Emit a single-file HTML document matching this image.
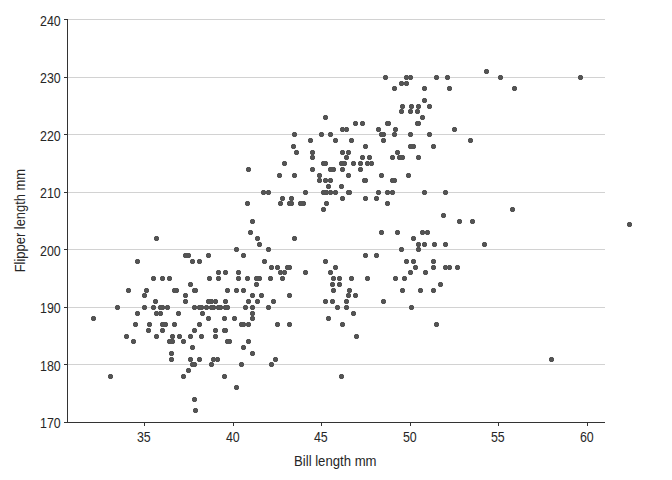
<!DOCTYPE html><html><head><meta charset="utf-8"><title>Scatter</title><style>html,body{margin:0;padding:0;background:#fff}svg{display:block}text{font-family:"Liberation Sans",sans-serif;fill:#262626}</style></head><body>
<svg width="672" height="480" viewBox="0 0 672 480">
<rect width="672" height="480" fill="#fff"/>
<g fill="#d2d2d2" shape-rendering="crispEdges">
<rect x="68" y="364" width="537" height="1"/>
<rect x="68" y="307" width="537" height="1"/>
<rect x="68" y="249" width="537" height="1"/>
<rect x="68" y="192" width="537" height="1"/>
<rect x="68" y="134" width="537" height="1"/>
<rect x="68" y="77" width="537" height="1"/>
<rect x="68" y="19" width="537" height="1"/>
</g>
<g fill="#333" shape-rendering="crispEdges">
<rect x="67" y="19" width="1" height="404"/>
<rect x="67" y="422" width="538" height="1"/>
<rect x="64" y="422" width="3" height="1"/>
<rect x="64" y="364" width="3" height="1"/>
<rect x="64" y="307" width="3" height="1"/>
<rect x="64" y="249" width="3" height="1"/>
<rect x="64" y="192" width="3" height="1"/>
<rect x="64" y="134" width="3" height="1"/>
<rect x="64" y="77" width="3" height="1"/>
<rect x="64" y="19" width="3" height="1"/>
<rect x="144" y="423" width="1" height="3"/>
<rect x="233" y="423" width="1" height="3"/>
<rect x="321" y="423" width="1" height="3"/>
<rect x="410" y="423" width="1" height="3"/>
<rect x="498" y="423" width="1" height="3"/>
<rect x="587" y="423" width="1" height="3"/>
</g>
<g font-size="13">
<text transform="translate(60.7,427.70) scale(0.955,1.08)" text-anchor="end">170</text>
<text transform="translate(60.7,370.70) scale(0.955,1.08)" text-anchor="end">180</text>
<text transform="translate(60.7,312.70) scale(0.955,1.08)" text-anchor="end">190</text>
<text transform="translate(60.7,255.70) scale(0.955,1.08)" text-anchor="end">200</text>
<text transform="translate(60.7,197.70) scale(0.955,1.08)" text-anchor="end">210</text>
<text transform="translate(60.7,140.70) scale(0.955,1.08)" text-anchor="end">220</text>
<text transform="translate(60.7,82.70) scale(0.955,1.08)" text-anchor="end">230</text>
<text transform="translate(60.7,25.70) scale(0.955,1.08)" text-anchor="end">240</text>
<text transform="translate(143.8,441.7) scale(0.955,1.08)" text-anchor="middle">35</text>
<text transform="translate(232.8,441.7) scale(0.955,1.08)" text-anchor="middle">40</text>
<text transform="translate(320.8,441.7) scale(0.955,1.08)" text-anchor="middle">45</text>
<text transform="translate(409.8,441.7) scale(0.955,1.08)" text-anchor="middle">50</text>
<text transform="translate(497.8,441.7) scale(0.955,1.08)" text-anchor="middle">55</text>
<text transform="translate(586.8,441.7) scale(0.955,1.08)" text-anchor="middle">60</text>
<text transform="translate(335.3,465.8) scale(1.012,1.08)" text-anchor="middle">Bill length mm</text>
<text transform="translate(25.4,220.6) rotate(-90) scale(0.995,1.08)" text-anchor="middle">Flipper length mm</text>
</g>
<g shape-rendering="crispEdges">
<path fill="#000" fill-opacity="0.12" d="M215 357h1v1h-1zm4 0h1v1h-1zm0 4h1v1h-1zm-4 0h1v1h-1zM222 328h1v1h-1zm4 0h1v1h-1zm0 4h1v1h-1zm-4 0h1v1h-1zM236 276h1v1h-1zm4 0h1v1h-1zm0 4h1v1h-1zm-4 0h1v1h-1zM172 288h1v1h-1zm4 0h1v1h-1zm0 4h1v1h-1zm-4 0h1v1h-1zM218 305h1v1h-1zm4 0h1v1h-1zm0 4h1v1h-1zm-4 0h1v1h-1zM211 357h1v1h-1zm4 0h1v1h-1zm0 4h1v1h-1zm-4 0h1v1h-1zM216 276h1v1h-1zm4 0h1v1h-1zm0 4h1v1h-1zm-4 0h1v1h-1zM126 288h1v1h-1zm4 0h1v1h-1zm0 4h1v1h-1zm-4 0h1v1h-1zM266 305h1v1h-1zm4 0h1v1h-1zm0 4h1v1h-1zm-4 0h1v1h-1zM192 328h1v1h-1zm4 0h1v1h-1zm0 4h1v1h-1zm-4 0h1v1h-1zM192 362h1v1h-1zm4 0h1v1h-1zm0 4h1v1h-1zm-4 0h1v1h-1zM250 351h1v1h-1zm4 0h1v1h-1zm0 4h1v1h-1zm-4 0h1v1h-1zM206 299h1v1h-1zm4 0h1v1h-1zm0 4h1v1h-1zm-4 0h1v1h-1zM135 259h1v1h-1zm4 0h1v1h-1zm0 4h1v1h-1zm-4 0h1v1h-1zM170 334h1v1h-1zm4 0h1v1h-1zm0 4h1v1h-1zm-4 0h1v1h-1zM207 276h1v1h-1zm4 0h1v1h-1zm0 4h1v1h-1zm-4 0h1v1h-1zM275 265h1v1h-1zm4 0h1v1h-1zm0 4h1v1h-1zm-4 0h1v1h-1zM131 339h1v1h-1zm4 0h1v1h-1zm0 4h1v1h-1zm-4 0h1v1h-1zM337 282h1v1h-1zm4 0h1v1h-1zm0 4h1v1h-1zm-4 0h1v1h-1zM192 397h1v1h-1zm4 0h1v1h-1zm0 4h1v1h-1zm-4 0h1v1h-1zM190 362h1v1h-1zm4 0h1v1h-1zm0 4h1v1h-1zm-4 0h1v1h-1zM158 311h1v1h-1zm4 0h1v1h-1zm0 4h1v1h-1zm-4 0h1v1h-1zM199 334h1v1h-1zm4 0h1v1h-1zm0 4h1v1h-1zm-4 0h1v1h-1zM209 362h1v1h-1zm4 0h1v1h-1zm0 4h1v1h-1zm-4 0h1v1h-1zM147 322h1v1h-1zm4 0h1v1h-1zm0 4h1v1h-1zm-4 0h1v1h-1zM241 345h1v1h-1zm4 0h1v1h-1zm0 4h1v1h-1zm-4 0h1v1h-1zM239 322h1v1h-1zm4 0h1v1h-1zm0 4h1v1h-1zm-4 0h1v1h-1zM193 408h1v1h-1zm4 0h1v1h-1zm0 4h1v1h-1zm-4 0h1v1h-1zM239 362h1v1h-1zm4 0h1v1h-1zm0 4h1v1h-1zm-4 0h1v1h-1zM222 374h1v1h-1zm4 0h1v1h-1zm0 4h1v1h-1zm-4 0h1v1h-1zM181 374h1v1h-1zm4 0h1v1h-1zm0 4h1v1h-1zm-4 0h1v1h-1zM222 316h1v1h-1zm4 0h1v1h-1zm0 4h1v1h-1zm-4 0h1v1h-1zM246 339h1v1h-1zm4 0h1v1h-1zm0 4h1v1h-1zm-4 0h1v1h-1zM167 276h1v1h-1zm4 0h1v1h-1zm0 4h1v1h-1zm-4 0h1v1h-1zM216 270h1v1h-1zm4 0h1v1h-1zm0 4h1v1h-1zm-4 0h1v1h-1zM209 305h1v1h-1zm4 0h1v1h-1zm0 4h1v1h-1zm-4 0h1v1h-1zM269 362h1v1h-1zm4 0h1v1h-1zm0 4h1v1h-1zm-4 0h1v1h-1zM188 357h1v1h-1zm4 0h1v1h-1zm0 4h1v1h-1zm-4 0h1v1h-1zM227 339h1v1h-1zm4 0h1v1h-1zm0 4h1v1h-1zm-4 0h1v1h-1zM169 351h1v1h-1zm4 0h1v1h-1zm0 4h1v1h-1zm-4 0h1v1h-1zM245 276h1v1h-1zm4 0h1v1h-1zm0 4h1v1h-1zm-4 0h1v1h-1zM160 328h1v1h-1zm4 0h1v1h-1zm0 4h1v1h-1zm-4 0h1v1h-1zM303 270h1v1h-1zm4 0h1v1h-1zm0 4h1v1h-1zm-4 0h1v1h-1zM177 334h1v1h-1zm4 0h1v1h-1zm0 4h1v1h-1zm-4 0h1v1h-1zM223 305h1v1h-1zm4 0h1v1h-1zm0 4h1v1h-1zm-4 0h1v1h-1zM186 368h1v1h-1zm4 0h1v1h-1zm0 4h1v1h-1zm-4 0h1v1h-1zM160 305h1v1h-1zm4 0h1v1h-1zm0 4h1v1h-1zm-4 0h1v1h-1zM271 299h1v1h-1zm4 0h1v1h-1zm0 4h1v1h-1zm-4 0h1v1h-1zM223 328h1v1h-1zm4 0h1v1h-1zm0 4h1v1h-1zm-4 0h1v1h-1zM232 316h1v1h-1zm4 0h1v1h-1zm0 4h1v1h-1zm-4 0h1v1h-1zM142 305h1v1h-1zm4 0h1v1h-1zm0 4h1v1h-1zm-4 0h1v1h-1zM266 247h1v1h-1zm4 0h1v1h-1zm0 4h1v1h-1zm-4 0h1v1h-1zM133 322h1v1h-1zm4 0h1v1h-1zm0 4h1v1h-1zm-4 0h1v1h-1zM255 299h1v1h-1zm4 0h1v1h-1zm0 4h1v1h-1zm-4 0h1v1h-1zM213 328h1v1h-1zm4 0h1v1h-1zm0 4h1v1h-1zm-4 0h1v1h-1zM241 288h1v1h-1zm4 0h1v1h-1zm0 4h1v1h-1zm-4 0h1v1h-1zM169 357h1v1h-1zm4 0h1v1h-1zm0 4h1v1h-1zm-4 0h1v1h-1zM188 282h1v1h-1zm4 0h1v1h-1zm0 4h1v1h-1zm-4 0h1v1h-1zM154 334h1v1h-1zm4 0h1v1h-1zm0 4h1v1h-1zm-4 0h1v1h-1zM254 276h1v1h-1zm4 0h1v1h-1zm0 4h1v1h-1zm-4 0h1v1h-1zM188 334h1v1h-1zm4 0h1v1h-1zm0 4h1v1h-1zm-4 0h1v1h-1zM250 293h1v1h-1zm4 0h1v1h-1zm0 4h1v1h-1zm-4 0h1v1h-1zM167 339h1v1h-1zm4 0h1v1h-1zm0 4h1v1h-1zm-4 0h1v1h-1zM259 293h1v1h-1zm4 0h1v1h-1zm0 4h1v1h-1zm-4 0h1v1h-1zM151 276h1v1h-1zm4 0h1v1h-1zm0 4h1v1h-1zm-4 0h1v1h-1zM250 316h1v1h-1zm4 0h1v1h-1zm0 4h1v1h-1zm-4 0h1v1h-1zM158 305h1v1h-1zm4 0h1v1h-1zm0 4h1v1h-1zm-4 0h1v1h-1zM262 259h1v1h-1zm4 0h1v1h-1zm0 4h1v1h-1zm-4 0h1v1h-1zM115 305h1v1h-1zm4 0h1v1h-1zm0 4h1v1h-1zm-4 0h1v1h-1zM225 305h1v1h-1zm4 0h1v1h-1zm0 4h1v1h-1zm-4 0h1v1h-1zM223 270h1v1h-1zm4 0h1v1h-1zm0 4h1v1h-1zm-4 0h1v1h-1zM333 265h1v1h-1zm4 0h1v1h-1zm0 4h1v1h-1zm-4 0h1v1h-1zM151 305h1v1h-1zm4 0h1v1h-1zm0 4h1v1h-1zm-4 0h1v1h-1zM280 276h1v1h-1zm4 0h1v1h-1zm0 4h1v1h-1zm-4 0h1v1h-1zM246 299h1v1h-1zm4 0h1v1h-1zm0 4h1v1h-1zm-4 0h1v1h-1zM181 339h1v1h-1zm4 0h1v1h-1zm0 4h1v1h-1zm-4 0h1v1h-1zM163 322h1v1h-1zm4 0h1v1h-1zm0 4h1v1h-1zm-4 0h1v1h-1zM268 276h1v1h-1zm4 0h1v1h-1zm0 4h1v1h-1zm-4 0h1v1h-1zM135 311h1v1h-1zm4 0h1v1h-1zm0 4h1v1h-1zm-4 0h1v1h-1zM282 270h1v1h-1zm4 0h1v1h-1zm0 4h1v1h-1zm-4 0h1v1h-1zM172 322h1v1h-1zm4 0h1v1h-1zm0 4h1v1h-1zm-4 0h1v1h-1zM144 288h1v1h-1zm4 0h1v1h-1zm0 4h1v1h-1zm-4 0h1v1h-1zM183 299h1v1h-1zm4 0h1v1h-1zm0 4h1v1h-1zm-4 0h1v1h-1zM254 282h1v1h-1zm4 0h1v1h-1zm0 4h1v1h-1zm-4 0h1v1h-1zM165 305h1v1h-1zm4 0h1v1h-1zm0 4h1v1h-1zm-4 0h1v1h-1zM176 311h1v1h-1zm4 0h1v1h-1zm0 4h1v1h-1zm-4 0h1v1h-1zM200 311h1v1h-1zm4 0h1v1h-1zm0 4h1v1h-1zm-4 0h1v1h-1zM211 305h1v1h-1zm4 0h1v1h-1zm0 4h1v1h-1zm-4 0h1v1h-1zM154 236h1v1h-1zm4 0h1v1h-1zm0 4h1v1h-1zm-4 0h1v1h-1zM250 219h1v1h-1zm4 0h1v1h-1zm0 4h1v1h-1zm-4 0h1v1h-1zM124 334h1v1h-1zm4 0h1v1h-1zm0 4h1v1h-1zm-4 0h1v1h-1zM245 201h1v1h-1zm4 0h1v1h-1zm0 4h1v1h-1zm-4 0h1v1h-1zM197 305h1v1h-1zm4 0h1v1h-1zm0 4h1v1h-1zm-4 0h1v1h-1zM236 270h1v1h-1zm4 0h1v1h-1zm0 4h1v1h-1zm-4 0h1v1h-1zM108 374h1v1h-1zm4 0h1v1h-1zm0 4h1v1h-1zm-4 0h1v1h-1zM287 293h1v1h-1zm4 0h1v1h-1zm0 4h1v1h-1zm-4 0h1v1h-1zM142 293h1v1h-1zm4 0h1v1h-1zm0 4h1v1h-1zm-4 0h1v1h-1zM248 230h1v1h-1zm4 0h1v1h-1zm0 4h1v1h-1zm-4 0h1v1h-1zM190 345h1v1h-1zm4 0h1v1h-1zm0 4h1v1h-1zm-4 0h1v1h-1zM192 305h1v1h-1zm4 0h1v1h-1zm0 4h1v1h-1zm-4 0h1v1h-1zM193 288h1v1h-1zm4 0h1v1h-1zm0 4h1v1h-1zm-4 0h1v1h-1zM225 339h1v1h-1zm4 0h1v1h-1zm0 4h1v1h-1zm-4 0h1v1h-1zM206 253h1v1h-1zm4 0h1v1h-1zm0 4h1v1h-1zm-4 0h1v1h-1zM199 305h1v1h-1zm4 0h1v1h-1zm0 4h1v1h-1zm-4 0h1v1h-1zM197 357h1v1h-1zm4 0h1v1h-1zm0 4h1v1h-1zm-4 0h1v1h-1zM287 265h1v1h-1zm4 0h1v1h-1zm0 4h1v1h-1zm-4 0h1v1h-1zM197 259h1v1h-1zm4 0h1v1h-1zm0 4h1v1h-1zm-4 0h1v1h-1zM330 299h1v1h-1zm4 0h1v1h-1zm0 4h1v1h-1zm-4 0h1v1h-1zM225 288h1v1h-1zm4 0h1v1h-1zm0 4h1v1h-1zm-4 0h1v1h-1zM269 265h1v1h-1zm4 0h1v1h-1zm0 4h1v1h-1zm-4 0h1v1h-1zM223 299h1v1h-1zm4 0h1v1h-1zm0 4h1v1h-1zm-4 0h1v1h-1zM278 270h1v1h-1zm4 0h1v1h-1zm0 4h1v1h-1zm-4 0h1v1h-1zM206 316h1v1h-1zm4 0h1v1h-1zm0 4h1v1h-1zm-4 0h1v1h-1zM183 253h1v1h-1zm4 0h1v1h-1zm0 4h1v1h-1zm-4 0h1v1h-1zM154 311h1v1h-1zm4 0h1v1h-1zm0 4h1v1h-1zm-4 0h1v1h-1zM250 311h1v1h-1zm4 0h1v1h-1zm0 4h1v1h-1zm-4 0h1v1h-1zM190 259h1v1h-1zm4 0h1v1h-1zm0 4h1v1h-1zm-4 0h1v1h-1zM234 385h1v1h-1zm4 0h1v1h-1zm0 4h1v1h-1zm-4 0h1v1h-1zM255 236h1v1h-1zm4 0h1v1h-1zm0 4h1v1h-1zm-4 0h1v1h-1zM146 328h1v1h-1zm4 0h1v1h-1zm0 4h1v1h-1zm-4 0h1v1h-1zM241 253h1v1h-1zm4 0h1v1h-1zm0 4h1v1h-1zm-4 0h1v1h-1zM209 299h1v1h-1zm4 0h1v1h-1zm0 4h1v1h-1zm-4 0h1v1h-1zM257 276h1v1h-1zm4 0h1v1h-1zm0 4h1v1h-1zm-4 0h1v1h-1zM213 299h1v1h-1zm4 0h1v1h-1zm0 4h1v1h-1zm-4 0h1v1h-1zM303 190h1v1h-1zm4 0h1v1h-1zm0 4h1v1h-1zm-4 0h1v1h-1zM204 305h1v1h-1zm4 0h1v1h-1zm0 4h1v1h-1zm-4 0h1v1h-1zM285 265h1v1h-1zm4 0h1v1h-1zm0 4h1v1h-1zm-4 0h1v1h-1zM174 288h1v1h-1zm4 0h1v1h-1zm0 4h1v1h-1zm-4 0h1v1h-1zM186 253h1v1h-1zm4 0h1v1h-1zm0 4h1v1h-1zm-4 0h1v1h-1zM197 322h1v1h-1zm4 0h1v1h-1zm0 4h1v1h-1zm-4 0h1v1h-1zM250 305h1v1h-1zm4 0h1v1h-1zm0 4h1v1h-1zm-4 0h1v1h-1zM153 299h1v1h-1zm4 0h1v1h-1zm0 4h1v1h-1zm-4 0h1v1h-1zM234 247h1v1h-1zm4 0h1v1h-1zm0 4h1v1h-1zm-4 0h1v1h-1zM234 288h1v1h-1zm4 0h1v1h-1zm0 4h1v1h-1zm-4 0h1v1h-1zM241 322h1v1h-1zm4 0h1v1h-1zm0 4h1v1h-1zm-4 0h1v1h-1zM91 316h1v1h-1zm4 0h1v1h-1zm0 4h1v1h-1zm-4 0h1v1h-1zM243 305h1v1h-1zm4 0h1v1h-1zm0 4h1v1h-1zm-4 0h1v1h-1zM183 293h1v1h-1zm4 0h1v1h-1zm0 4h1v1h-1zm-4 0h1v1h-1zM213 334h1v1h-1zm4 0h1v1h-1zm0 4h1v1h-1zm-4 0h1v1h-1zM216 305h1v1h-1zm4 0h1v1h-1zm0 4h1v1h-1zm-4 0h1v1h-1zM170 339h1v1h-1zm4 0h1v1h-1zm0 4h1v1h-1zm-4 0h1v1h-1zM160 276h1v1h-1zm4 0h1v1h-1zm0 4h1v1h-1zm-4 0h1v1h-1zM192 288h1v1h-1zm4 0h1v1h-1zm0 4h1v1h-1zm-4 0h1v1h-1zM160 322h1v1h-1zm4 0h1v1h-1zm0 4h1v1h-1zm-4 0h1v1h-1zM257 242h1v1h-1zm4 0h1v1h-1zm0 4h1v1h-1zm-4 0h1v1h-1zM339 184h1v1h-1zm4 0h1v1h-1zm0 4h1v1h-1zm-4 0h1v1h-1zM408 75h1v1h-1zm4 0h1v1h-1zm0 4h1v1h-1zm-4 0h1v1h-1zM385 190h1v1h-1zm4 0h1v1h-1zm0 4h1v1h-1zm-4 0h1v1h-1zM408 144h1v1h-1zm4 0h1v1h-1zm0 4h1v1h-1zm-4 0h1v1h-1zM365 161h1v1h-1zm4 0h1v1h-1zm0 4h1v1h-1zm-4 0h1v1h-1zM346 190h1v1h-1zm4 0h1v1h-1zm0 4h1v1h-1zm-4 0h1v1h-1zM326 184h1v1h-1zm4 0h1v1h-1zm0 4h1v1h-1zm-4 0h1v1h-1zM349 138h1v1h-1zm4 0h1v1h-1zm0 4h1v1h-1zm-4 0h1v1h-1zM289 196h1v1h-1zm4 0h1v1h-1zm0 4h1v1h-1zm-4 0h1v1h-1zM351 161h1v1h-1zm4 0h1v1h-1zm0 4h1v1h-1zm-4 0h1v1h-1zM246 167h1v1h-1zm4 0h1v1h-1zm0 4h1v1h-1zm-4 0h1v1h-1zM390 155h1v1h-1zm4 0h1v1h-1zm0 4h1v1h-1zm-4 0h1v1h-1zM328 167h1v1h-1zm4 0h1v1h-1zm0 4h1v1h-1zm-4 0h1v1h-1zM379 173h1v1h-1zm4 0h1v1h-1zm0 4h1v1h-1zm-4 0h1v1h-1zM333 190h1v1h-1zm4 0h1v1h-1zm0 4h1v1h-1zm-4 0h1v1h-1zM395 150h1v1h-1zm4 0h1v1h-1zm0 4h1v1h-1zm-4 0h1v1h-1zM266 190h1v1h-1zm4 0h1v1h-1zm0 4h1v1h-1zm-4 0h1v1h-1zM393 127h1v1h-1zm4 0h1v1h-1zm0 4h1v1h-1zm-4 0h1v1h-1zM340 196h1v1h-1zm4 0h1v1h-1zm0 4h1v1h-1zm-4 0h1v1h-1zM385 121h1v1h-1zm4 0h1v1h-1zm0 4h1v1h-1zm-4 0h1v1h-1zM411 144h1v1h-1zm4 0h1v1h-1zm0 4h1v1h-1zm-4 0h1v1h-1zM321 161h1v1h-1zm4 0h1v1h-1zm0 4h1v1h-1zm-4 0h1v1h-1zM346 173h1v1h-1zm4 0h1v1h-1zm0 4h1v1h-1zm-4 0h1v1h-1zM342 161h1v1h-1zm4 0h1v1h-1zm0 4h1v1h-1zm-4 0h1v1h-1zM282 161h1v1h-1zm4 0h1v1h-1zm0 4h1v1h-1zm-4 0h1v1h-1zM339 161h1v1h-1zm4 0h1v1h-1zm0 4h1v1h-1zm-4 0h1v1h-1zM310 155h1v1h-1zm4 0h1v1h-1zm0 4h1v1h-1zm-4 0h1v1h-1zM369 161h1v1h-1zm4 0h1v1h-1zm0 4h1v1h-1zm-4 0h1v1h-1zM376 190h1v1h-1zm4 0h1v1h-1zm0 4h1v1h-1zm-4 0h1v1h-1zM408 132h1v1h-1zm4 0h1v1h-1zm0 4h1v1h-1zm-4 0h1v1h-1zM360 121h1v1h-1zm4 0h1v1h-1zm0 4h1v1h-1zm-4 0h1v1h-1zM280 196h1v1h-1zm4 0h1v1h-1zm0 4h1v1h-1zm-4 0h1v1h-1zM321 207h1v1h-1zm4 0h1v1h-1zm0 4h1v1h-1zm-4 0h1v1h-1zM578 75h1v1h-1zm4 0h1v1h-1zm0 4h1v1h-1zm-4 0h1v1h-1zM392 132h1v1h-1zm4 0h1v1h-1zm0 4h1v1h-1zm-4 0h1v1h-1zM379 132h1v1h-1zm4 0h1v1h-1zm0 4h1v1h-1zm-4 0h1v1h-1zM277 173h1v1h-1zm4 0h1v1h-1zm0 4h1v1h-1zm-4 0h1v1h-1zM308 138h1v1h-1zm4 0h1v1h-1zm0 4h1v1h-1zm-4 0h1v1h-1zM301 201h1v1h-1zm4 0h1v1h-1zm0 4h1v1h-1zm-4 0h1v1h-1zM385 201h1v1h-1zm4 0h1v1h-1zm0 4h1v1h-1zm-4 0h1v1h-1zM278 201h1v1h-1zm4 0h1v1h-1zm0 4h1v1h-1zm-4 0h1v1h-1zM400 104h1v1h-1zm4 0h1v1h-1zm0 4h1v1h-1zm-4 0h1v1h-1zM324 190h1v1h-1zm4 0h1v1h-1zm0 4h1v1h-1zm-4 0h1v1h-1zM400 155h1v1h-1zm4 0h1v1h-1zm0 4h1v1h-1zm-4 0h1v1h-1zM416 121h1v1h-1zm4 0h1v1h-1zm0 4h1v1h-1zm-4 0h1v1h-1zM294 150h1v1h-1zm4 0h1v1h-1zm0 4h1v1h-1zm-4 0h1v1h-1zM328 190h1v1h-1zm4 0h1v1h-1zm0 4h1v1h-1zm-4 0h1v1h-1zM416 104h1v1h-1zm4 0h1v1h-1zm0 4h1v1h-1zm-4 0h1v1h-1zM317 173h1v1h-1zm4 0h1v1h-1zm0 4h1v1h-1zm-4 0h1v1h-1zM323 161h1v1h-1zm4 0h1v1h-1zm0 4h1v1h-1zm-4 0h1v1h-1zM347 190h1v1h-1zm4 0h1v1h-1zm0 4h1v1h-1zm-4 0h1v1h-1zM381 132h1v1h-1zm4 0h1v1h-1zm0 4h1v1h-1zm-4 0h1v1h-1zM321 190h1v1h-1zm4 0h1v1h-1zm0 4h1v1h-1zm-4 0h1v1h-1zM409 104h1v1h-1zm4 0h1v1h-1zm0 4h1v1h-1zm-4 0h1v1h-1zM346 150h1v1h-1zm4 0h1v1h-1zm0 4h1v1h-1zm-4 0h1v1h-1zM319 132h1v1h-1zm4 0h1v1h-1zm0 4h1v1h-1zm-4 0h1v1h-1zM298 201h1v1h-1zm4 0h1v1h-1zm0 4h1v1h-1zm-4 0h1v1h-1zM328 132h1v1h-1zm4 0h1v1h-1zm0 4h1v1h-1zm-4 0h1v1h-1zM287 201h1v1h-1zm4 0h1v1h-1zm0 4h1v1h-1zm-4 0h1v1h-1zM415 109h1v1h-1zm4 0h1v1h-1zm0 4h1v1h-1zm-4 0h1v1h-1zM324 201h1v1h-1zm4 0h1v1h-1zm0 4h1v1h-1zm-4 0h1v1h-1zM340 127h1v1h-1zm4 0h1v1h-1zm0 4h1v1h-1zm-4 0h1v1h-1zM331 167h1v1h-1zm4 0h1v1h-1zm0 4h1v1h-1zm-4 0h1v1h-1zM484 69h1v1h-1zm4 0h1v1h-1zm0 4h1v1h-1zm-4 0h1v1h-1zM333 138h1v1h-1zm4 0h1v1h-1zm0 4h1v1h-1zm-4 0h1v1h-1zM404 75h1v1h-1zm4 0h1v1h-1zm0 4h1v1h-1zm-4 0h1v1h-1zM340 167h1v1h-1zm4 0h1v1h-1zm0 4h1v1h-1zm-4 0h1v1h-1zM399 81h1v1h-1zm4 0h1v1h-1zm0 4h1v1h-1zm-4 0h1v1h-1zM292 132h1v1h-1zm4 0h1v1h-1zm0 4h1v1h-1zm-4 0h1v1h-1zM420 115h1v1h-1zm4 0h1v1h-1zm0 4h1v1h-1zm-4 0h1v1h-1zM367 155h1v1h-1zm4 0h1v1h-1zm0 4h1v1h-1zm-4 0h1v1h-1zM344 127h1v1h-1zm4 0h1v1h-1zm0 4h1v1h-1zm-4 0h1v1h-1zM376 127h1v1h-1zm4 0h1v1h-1zm0 4h1v1h-1zm-4 0h1v1h-1zM344 155h1v1h-1zm4 0h1v1h-1zm0 4h1v1h-1zm-4 0h1v1h-1zM383 75h1v1h-1zm4 0h1v1h-1zm0 4h1v1h-1zm-4 0h1v1h-1zM363 196h1v1h-1zm4 0h1v1h-1zm0 4h1v1h-1zm-4 0h1v1h-1zM427 132h1v1h-1zm4 0h1v1h-1zm0 4h1v1h-1zm-4 0h1v1h-1zM323 115h1v1h-1zm4 0h1v1h-1zm0 4h1v1h-1zm-4 0h1v1h-1zM392 178h1v1h-1zm4 0h1v1h-1zm0 4h1v1h-1zm-4 0h1v1h-1zM452 127h1v1h-1zm4 0h1v1h-1zm0 4h1v1h-1zm-4 0h1v1h-1zM362 178h1v1h-1zm4 0h1v1h-1zm0 4h1v1h-1zm-4 0h1v1h-1zM408 109h1v1h-1zm4 0h1v1h-1zm0 4h1v1h-1zm-4 0h1v1h-1zM317 178h1v1h-1zm4 0h1v1h-1zm0 4h1v1h-1zm-4 0h1v1h-1zM422 86h1v1h-1zm4 0h1v1h-1zm0 4h1v1h-1zm-4 0h1v1h-1zM291 144h1v1h-1zm4 0h1v1h-1zm0 4h1v1h-1zm-4 0h1v1h-1zM431 144h1v1h-1zm4 0h1v1h-1zm0 4h1v1h-1zm-4 0h1v1h-1zM363 178h1v1h-1zm4 0h1v1h-1zm0 4h1v1h-1zm-4 0h1v1h-1zM445 75h1v1h-1zm4 0h1v1h-1zm0 4h1v1h-1zm-4 0h1v1h-1zM363 144h1v1h-1zm4 0h1v1h-1zm0 4h1v1h-1zm-4 0h1v1h-1zM447 86h1v1h-1zm4 0h1v1h-1zm0 4h1v1h-1zm-4 0h1v1h-1zM328 178h1v1h-1zm4 0h1v1h-1zm0 4h1v1h-1zm-4 0h1v1h-1zM399 109h1v1h-1zm4 0h1v1h-1zm0 4h1v1h-1zm-4 0h1v1h-1zM310 167h1v1h-1zm4 0h1v1h-1zm0 4h1v1h-1zm-4 0h1v1h-1zM422 98h1v1h-1zm4 0h1v1h-1zm0 4h1v1h-1zm-4 0h1v1h-1zM397 155h1v1h-1zm4 0h1v1h-1zm0 4h1v1h-1zm-4 0h1v1h-1zM353 121h1v1h-1zm4 0h1v1h-1zm0 4h1v1h-1zm-4 0h1v1h-1zM379 230h1v1h-1zm4 0h1v1h-1zm0 4h1v1h-1zm-4 0h1v1h-1zM427 104h1v1h-1zm4 0h1v1h-1zm0 4h1v1h-1zm-4 0h1v1h-1zM381 138h1v1h-1zm4 0h1v1h-1zm0 4h1v1h-1zm-4 0h1v1h-1zM512 86h1v1h-1zm4 0h1v1h-1zm0 4h1v1h-1zm-4 0h1v1h-1zM358 161h1v1h-1zm4 0h1v1h-1zm0 4h1v1h-1zm-4 0h1v1h-1zM392 86h1v1h-1zm4 0h1v1h-1zm0 4h1v1h-1zm-4 0h1v1h-1zM360 155h1v1h-1zm4 0h1v1h-1zm0 4h1v1h-1zm-4 0h1v1h-1zM261 190h1v1h-1zm4 0h1v1h-1zm0 4h1v1h-1zm-4 0h1v1h-1zM468 138h1v1h-1zm4 0h1v1h-1zm0 4h1v1h-1zm-4 0h1v1h-1zM289 201h1v1h-1zm4 0h1v1h-1zm0 4h1v1h-1zm-4 0h1v1h-1zM374 196h1v1h-1zm4 0h1v1h-1zm0 4h1v1h-1zm-4 0h1v1h-1zM416 155h1v1h-1zm4 0h1v1h-1zm0 4h1v1h-1zm-4 0h1v1h-1zM404 81h1v1h-1zm4 0h1v1h-1zm0 4h1v1h-1zm-4 0h1v1h-1zM292 173h1v1h-1zm4 0h1v1h-1zm0 4h1v1h-1zm-4 0h1v1h-1zM434 75h1v1h-1zm4 0h1v1h-1zm0 4h1v1h-1zm-4 0h1v1h-1zM340 150h1v1h-1zm4 0h1v1h-1zm0 4h1v1h-1zm-4 0h1v1h-1zM498 75h1v1h-1zm4 0h1v1h-1zm0 4h1v1h-1zm-4 0h1v1h-1zM310 150h1v1h-1zm4 0h1v1h-1zm0 4h1v1h-1zm-4 0h1v1h-1zM386 121h1v1h-1zm4 0h1v1h-1zm0 4h1v1h-1zm-4 0h1v1h-1zM358 167h1v1h-1zm4 0h1v1h-1zm0 4h1v1h-1zm-4 0h1v1h-1zM415 121h1v1h-1zm4 0h1v1h-1zm0 4h1v1h-1zm-4 0h1v1h-1zM323 178h1v1h-1zm4 0h1v1h-1zm0 4h1v1h-1zm-4 0h1v1h-1zM406 173h1v1h-1zm4 0h1v1h-1zm0 4h1v1h-1zm-4 0h1v1h-1zM346 293h1v1h-1zm4 0h1v1h-1zm0 4h1v1h-1zm-4 0h1v1h-1zM408 270h1v1h-1zm4 0h1v1h-1zm0 4h1v1h-1zm-4 0h1v1h-1zM431 288h1v1h-1zm4 0h1v1h-1zm0 4h1v1h-1zm-4 0h1v1h-1zM326 316h1v1h-1zm4 0h1v1h-1zm0 4h1v1h-1zm-4 0h1v1h-1zM455 265h1v1h-1zm4 0h1v1h-1zm0 4h1v1h-1zm-4 0h1v1h-1zM323 259h1v1h-1zm4 0h1v1h-1zm0 4h1v1h-1zm-4 0h1v1h-1zM339 374h1v1h-1zm4 0h1v1h-1zm0 4h1v1h-1zm-4 0h1v1h-1zM431 265h1v1h-1zm4 0h1v1h-1zm0 4h1v1h-1zm-4 0h1v1h-1zM337 276h1v1h-1zm4 0h1v1h-1zm0 4h1v1h-1zm-4 0h1v1h-1zM431 259h1v1h-1zm4 0h1v1h-1zm0 4h1v1h-1zm-4 0h1v1h-1zM347 288h1v1h-1zm4 0h1v1h-1zm0 4h1v1h-1zm-4 0h1v1h-1zM438 282h1v1h-1zm4 0h1v1h-1zm0 4h1v1h-1zm-4 0h1v1h-1zM354 334h1v1h-1zm4 0h1v1h-1zm0 4h1v1h-1zm-4 0h1v1h-1zM443 242h1v1h-1zm4 0h1v1h-1zm0 4h1v1h-1zm-4 0h1v1h-1zM335 305h1v1h-1zm4 0h1v1h-1zm0 4h1v1h-1zm-4 0h1v1h-1zM416 242h1v1h-1zm4 0h1v1h-1zm0 4h1v1h-1zm-4 0h1v1h-1zM413 265h1v1h-1zm4 0h1v1h-1zm0 4h1v1h-1zm-4 0h1v1h-1zM549 357h1v1h-1zm4 0h1v1h-1zm0 4h1v1h-1zm-4 0h1v1h-1zM344 305h1v1h-1zm4 0h1v1h-1zm0 4h1v1h-1zm-4 0h1v1h-1zM393 276h1v1h-1zm4 0h1v1h-1zm0 4h1v1h-1zm-4 0h1v1h-1zM273 357h1v1h-1zm4 0h1v1h-1zm0 4h1v1h-1zm-4 0h1v1h-1zM381 299h1v1h-1zm4 0h1v1h-1zm0 4h1v1h-1zm-4 0h1v1h-1zM287 322h1v1h-1zm4 0h1v1h-1zm0 4h1v1h-1zm-4 0h1v1h-1zM418 288h1v1h-1zm4 0h1v1h-1zm0 4h1v1h-1zm-4 0h1v1h-1zM349 276h1v1h-1zm4 0h1v1h-1zm0 4h1v1h-1zm-4 0h1v1h-1zM443 265h1v1h-1zm4 0h1v1h-1zm0 4h1v1h-1zm-4 0h1v1h-1zM416 247h1v1h-1zm4 0h1v1h-1zm0 4h1v1h-1zm-4 0h1v1h-1zM399 247h1v1h-1zm4 0h1v1h-1zm0 4h1v1h-1zm-4 0h1v1h-1zM344 299h1v1h-1zm4 0h1v1h-1zm0 4h1v1h-1zm-4 0h1v1h-1zM457 219h1v1h-1zm4 0h1v1h-1zm0 4h1v1h-1zm-4 0h1v1h-1zM246 322h1v1h-1zm4 0h1v1h-1zm0 4h1v1h-1zm-4 0h1v1h-1zM482 242h1v1h-1zm4 0h1v1h-1zm0 4h1v1h-1zm-4 0h1v1h-1zM275 322h1v1h-1zm4 0h1v1h-1zm0 4h1v1h-1zm-4 0h1v1h-1zM425 230h1v1h-1zm4 0h1v1h-1zm0 4h1v1h-1zm-4 0h1v1h-1zM402 276h1v1h-1zm4 0h1v1h-1zm0 4h1v1h-1zm-4 0h1v1h-1zM363 253h1v1h-1zm4 0h1v1h-1zm0 4h1v1h-1zm-4 0h1v1h-1zM365 276h1v1h-1zm4 0h1v1h-1zm0 4h1v1h-1zm-4 0h1v1h-1zM443 190h1v1h-1zm4 0h1v1h-1zm0 4h1v1h-1zm-4 0h1v1h-1zM353 293h1v1h-1zm4 0h1v1h-1zm0 4h1v1h-1zm-4 0h1v1h-1zM470 219h1v1h-1zm4 0h1v1h-1zm0 4h1v1h-1zm-4 0h1v1h-1zM390 190h1v1h-1zm4 0h1v1h-1zm0 4h1v1h-1zm-4 0h1v1h-1zM340 322h1v1h-1zm4 0h1v1h-1zm0 4h1v1h-1zm-4 0h1v1h-1zM423 270h1v1h-1zm4 0h1v1h-1zm0 4h1v1h-1zm-4 0h1v1h-1zM328 270h1v1h-1zm4 0h1v1h-1zm0 4h1v1h-1zm-4 0h1v1h-1zM422 242h1v1h-1zm4 0h1v1h-1zm0 4h1v1h-1zm-4 0h1v1h-1zM409 305h1v1h-1zm4 0h1v1h-1zm0 4h1v1h-1zm-4 0h1v1h-1zM390 178h1v1h-1zm4 0h1v1h-1zm0 4h1v1h-1zm-4 0h1v1h-1zM434 322h1v1h-1zm4 0h1v1h-1zm0 4h1v1h-1zm-4 0h1v1h-1zM404 259h1v1h-1zm4 0h1v1h-1zm0 4h1v1h-1zm-4 0h1v1h-1zM374 253h1v1h-1zm4 0h1v1h-1zm0 4h1v1h-1zm-4 0h1v1h-1zM432 242h1v1h-1zm4 0h1v1h-1zm0 4h1v1h-1zm-4 0h1v1h-1zM331 288h1v1h-1zm4 0h1v1h-1zm0 4h1v1h-1zm-4 0h1v1h-1zM420 230h1v1h-1zm4 0h1v1h-1zm0 4h1v1h-1zm-4 0h1v1h-1zM447 265h1v1h-1zm4 0h1v1h-1zm0 4h1v1h-1zm-4 0h1v1h-1zM323 299h1v1h-1zm4 0h1v1h-1zm0 4h1v1h-1zm-4 0h1v1h-1zM395 230h1v1h-1zm4 0h1v1h-1zm0 4h1v1h-1zm-4 0h1v1h-1zM411 236h1v1h-1zm4 0h1v1h-1zm0 4h1v1h-1zm-4 0h1v1h-1zM330 282h1v1h-1zm4 0h1v1h-1zm0 4h1v1h-1zm-4 0h1v1h-1zM441 213h1v1h-1zm4 0h1v1h-1zm0 4h1v1h-1zm-4 0h1v1h-1zM351 311h1v1h-1zm4 0h1v1h-1zm0 4h1v1h-1zm-4 0h1v1h-1zM331 276h1v1h-1zm4 0h1v1h-1zm0 4h1v1h-1zm-4 0h1v1h-1zM510 207h1v1h-1zm4 0h1v1h-1zm0 4h1v1h-1zm-4 0h1v1h-1zM292 236h1v1h-1zm4 0h1v1h-1zm0 4h1v1h-1zm-4 0h1v1h-1zM400 288h1v1h-1zm4 0h1v1h-1zm0 4h1v1h-1zm-4 0h1v1h-1zM422 190h1v1h-1zm4 0h1v1h-1zm0 4h1v1h-1zm-4 0h1v1h-1zM411 259h1v1h-1zm4 0h1v1h-1zm0 4h1v1h-1zm-4 0h1v1h-1zM627 222h1v1h-1zm4 0h1v1h-1zm0 4h1v1h-1zm-4 0h1v1h-1z"/>
<path fill="#545454" d="M216 357h3v1h1v3h-1v1h-3v-1h-1v-3h1zM223 328h3v1h1v3h-1v1h-3v-1h-1v-3h1zM237 276h3v1h1v3h-1v1h-3v-1h-1v-3h1zM173 288h3v1h1v3h-1v1h-3v-1h-1v-3h1zM219 305h3v1h1v3h-1v1h-3v-1h-1v-3h1zM212 357h3v1h1v3h-1v1h-3v-1h-1v-3h1zM217 276h3v1h1v3h-1v1h-3v-1h-1v-3h1zM127 288h3v1h1v3h-1v1h-3v-1h-1v-3h1zM267 305h3v1h1v3h-1v1h-3v-1h-1v-3h1zM193 328h3v1h1v3h-1v1h-3v-1h-1v-3h1zM193 362h3v1h1v3h-1v1h-3v-1h-1v-3h1zM251 351h3v1h1v3h-1v1h-3v-1h-1v-3h1zM207 299h3v1h1v3h-1v1h-3v-1h-1v-3h1zM136 259h3v1h1v3h-1v1h-3v-1h-1v-3h1zM171 334h3v1h1v3h-1v1h-3v-1h-1v-3h1zM208 276h3v1h1v3h-1v1h-3v-1h-1v-3h1zM276 265h3v1h1v3h-1v1h-3v-1h-1v-3h1zM132 339h3v1h1v3h-1v1h-3v-1h-1v-3h1zM338 282h3v1h1v3h-1v1h-3v-1h-1v-3h1zM193 397h3v1h1v3h-1v1h-3v-1h-1v-3h1zM191 362h3v1h1v3h-1v1h-3v-1h-1v-3h1zM159 311h3v1h1v3h-1v1h-3v-1h-1v-3h1zM200 334h3v1h1v3h-1v1h-3v-1h-1v-3h1zM210 362h3v1h1v3h-1v1h-3v-1h-1v-3h1zM148 322h3v1h1v3h-1v1h-3v-1h-1v-3h1zM242 345h3v1h1v3h-1v1h-3v-1h-1v-3h1zM240 322h3v1h1v3h-1v1h-3v-1h-1v-3h1zM194 408h3v1h1v3h-1v1h-3v-1h-1v-3h1zM240 362h3v1h1v3h-1v1h-3v-1h-1v-3h1zM223 374h3v1h1v3h-1v1h-3v-1h-1v-3h1zM182 374h3v1h1v3h-1v1h-3v-1h-1v-3h1zM223 316h3v1h1v3h-1v1h-3v-1h-1v-3h1zM247 339h3v1h1v3h-1v1h-3v-1h-1v-3h1zM168 276h3v1h1v3h-1v1h-3v-1h-1v-3h1zM217 270h3v1h1v3h-1v1h-3v-1h-1v-3h1zM210 305h3v1h1v3h-1v1h-3v-1h-1v-3h1zM270 362h3v1h1v3h-1v1h-3v-1h-1v-3h1zM189 357h3v1h1v3h-1v1h-3v-1h-1v-3h1zM228 339h3v1h1v3h-1v1h-3v-1h-1v-3h1zM170 351h3v1h1v3h-1v1h-3v-1h-1v-3h1zM246 276h3v1h1v3h-1v1h-3v-1h-1v-3h1zM161 328h3v1h1v3h-1v1h-3v-1h-1v-3h1zM304 270h3v1h1v3h-1v1h-3v-1h-1v-3h1zM178 334h3v1h1v3h-1v1h-3v-1h-1v-3h1zM224 305h3v1h1v3h-1v1h-3v-1h-1v-3h1zM187 368h3v1h1v3h-1v1h-3v-1h-1v-3h1zM161 305h3v1h1v3h-1v1h-3v-1h-1v-3h1zM272 299h3v1h1v3h-1v1h-3v-1h-1v-3h1zM224 328h3v1h1v3h-1v1h-3v-1h-1v-3h1zM233 316h3v1h1v3h-1v1h-3v-1h-1v-3h1zM143 305h3v1h1v3h-1v1h-3v-1h-1v-3h1zM267 247h3v1h1v3h-1v1h-3v-1h-1v-3h1zM134 322h3v1h1v3h-1v1h-3v-1h-1v-3h1zM256 299h3v1h1v3h-1v1h-3v-1h-1v-3h1zM214 328h3v1h1v3h-1v1h-3v-1h-1v-3h1zM242 288h3v1h1v3h-1v1h-3v-1h-1v-3h1zM170 357h3v1h1v3h-1v1h-3v-1h-1v-3h1zM189 282h3v1h1v3h-1v1h-3v-1h-1v-3h1zM155 334h3v1h1v3h-1v1h-3v-1h-1v-3h1zM255 276h3v1h1v3h-1v1h-3v-1h-1v-3h1zM189 334h3v1h1v3h-1v1h-3v-1h-1v-3h1zM251 293h3v1h1v3h-1v1h-3v-1h-1v-3h1zM168 339h3v1h1v3h-1v1h-3v-1h-1v-3h1zM260 293h3v1h1v3h-1v1h-3v-1h-1v-3h1zM152 276h3v1h1v3h-1v1h-3v-1h-1v-3h1zM251 316h3v1h1v3h-1v1h-3v-1h-1v-3h1zM159 305h3v1h1v3h-1v1h-3v-1h-1v-3h1zM263 259h3v1h1v3h-1v1h-3v-1h-1v-3h1zM116 305h3v1h1v3h-1v1h-3v-1h-1v-3h1zM226 305h3v1h1v3h-1v1h-3v-1h-1v-3h1zM224 270h3v1h1v3h-1v1h-3v-1h-1v-3h1zM334 265h3v1h1v3h-1v1h-3v-1h-1v-3h1zM152 305h3v1h1v3h-1v1h-3v-1h-1v-3h1zM281 276h3v1h1v3h-1v1h-3v-1h-1v-3h1zM247 299h3v1h1v3h-1v1h-3v-1h-1v-3h1zM182 339h3v1h1v3h-1v1h-3v-1h-1v-3h1zM164 322h3v1h1v3h-1v1h-3v-1h-1v-3h1zM269 276h3v1h1v3h-1v1h-3v-1h-1v-3h1zM136 311h3v1h1v3h-1v1h-3v-1h-1v-3h1zM283 270h3v1h1v3h-1v1h-3v-1h-1v-3h1zM173 322h3v1h1v3h-1v1h-3v-1h-1v-3h1zM145 288h3v1h1v3h-1v1h-3v-1h-1v-3h1zM184 299h3v1h1v3h-1v1h-3v-1h-1v-3h1zM255 282h3v1h1v3h-1v1h-3v-1h-1v-3h1zM166 305h3v1h1v3h-1v1h-3v-1h-1v-3h1zM177 311h3v1h1v3h-1v1h-3v-1h-1v-3h1zM201 311h3v1h1v3h-1v1h-3v-1h-1v-3h1zM212 305h3v1h1v3h-1v1h-3v-1h-1v-3h1zM155 236h3v1h1v3h-1v1h-3v-1h-1v-3h1zM251 219h3v1h1v3h-1v1h-3v-1h-1v-3h1zM125 334h3v1h1v3h-1v1h-3v-1h-1v-3h1zM246 201h3v1h1v3h-1v1h-3v-1h-1v-3h1zM198 305h3v1h1v3h-1v1h-3v-1h-1v-3h1zM237 270h3v1h1v3h-1v1h-3v-1h-1v-3h1zM109 374h3v1h1v3h-1v1h-3v-1h-1v-3h1zM288 293h3v1h1v3h-1v1h-3v-1h-1v-3h1zM143 293h3v1h1v3h-1v1h-3v-1h-1v-3h1zM249 230h3v1h1v3h-1v1h-3v-1h-1v-3h1zM191 345h3v1h1v3h-1v1h-3v-1h-1v-3h1zM193 305h3v1h1v3h-1v1h-3v-1h-1v-3h1zM194 288h3v1h1v3h-1v1h-3v-1h-1v-3h1zM226 339h3v1h1v3h-1v1h-3v-1h-1v-3h1zM207 253h3v1h1v3h-1v1h-3v-1h-1v-3h1zM200 305h3v1h1v3h-1v1h-3v-1h-1v-3h1zM198 357h3v1h1v3h-1v1h-3v-1h-1v-3h1zM288 265h3v1h1v3h-1v1h-3v-1h-1v-3h1zM198 259h3v1h1v3h-1v1h-3v-1h-1v-3h1zM331 299h3v1h1v3h-1v1h-3v-1h-1v-3h1zM226 288h3v1h1v3h-1v1h-3v-1h-1v-3h1zM270 265h3v1h1v3h-1v1h-3v-1h-1v-3h1zM224 299h3v1h1v3h-1v1h-3v-1h-1v-3h1zM279 270h3v1h1v3h-1v1h-3v-1h-1v-3h1zM207 316h3v1h1v3h-1v1h-3v-1h-1v-3h1zM184 253h3v1h1v3h-1v1h-3v-1h-1v-3h1zM155 311h3v1h1v3h-1v1h-3v-1h-1v-3h1zM251 311h3v1h1v3h-1v1h-3v-1h-1v-3h1zM191 259h3v1h1v3h-1v1h-3v-1h-1v-3h1zM235 385h3v1h1v3h-1v1h-3v-1h-1v-3h1zM256 236h3v1h1v3h-1v1h-3v-1h-1v-3h1zM147 328h3v1h1v3h-1v1h-3v-1h-1v-3h1zM242 253h3v1h1v3h-1v1h-3v-1h-1v-3h1zM210 299h3v1h1v3h-1v1h-3v-1h-1v-3h1zM258 276h3v1h1v3h-1v1h-3v-1h-1v-3h1zM214 299h3v1h1v3h-1v1h-3v-1h-1v-3h1zM304 190h3v1h1v3h-1v1h-3v-1h-1v-3h1zM205 305h3v1h1v3h-1v1h-3v-1h-1v-3h1zM286 265h3v1h1v3h-1v1h-3v-1h-1v-3h1zM175 288h3v1h1v3h-1v1h-3v-1h-1v-3h1zM187 253h3v1h1v3h-1v1h-3v-1h-1v-3h1zM198 322h3v1h1v3h-1v1h-3v-1h-1v-3h1zM251 305h3v1h1v3h-1v1h-3v-1h-1v-3h1zM154 299h3v1h1v3h-1v1h-3v-1h-1v-3h1zM235 247h3v1h1v3h-1v1h-3v-1h-1v-3h1zM235 288h3v1h1v3h-1v1h-3v-1h-1v-3h1zM242 322h3v1h1v3h-1v1h-3v-1h-1v-3h1zM92 316h3v1h1v3h-1v1h-3v-1h-1v-3h1zM244 305h3v1h1v3h-1v1h-3v-1h-1v-3h1zM184 293h3v1h1v3h-1v1h-3v-1h-1v-3h1zM214 334h3v1h1v3h-1v1h-3v-1h-1v-3h1zM217 305h3v1h1v3h-1v1h-3v-1h-1v-3h1zM171 339h3v1h1v3h-1v1h-3v-1h-1v-3h1zM161 276h3v1h1v3h-1v1h-3v-1h-1v-3h1zM193 288h3v1h1v3h-1v1h-3v-1h-1v-3h1zM161 322h3v1h1v3h-1v1h-3v-1h-1v-3h1zM258 242h3v1h1v3h-1v1h-3v-1h-1v-3h1zM340 184h3v1h1v3h-1v1h-3v-1h-1v-3h1zM409 75h3v1h1v3h-1v1h-3v-1h-1v-3h1zM386 190h3v1h1v3h-1v1h-3v-1h-1v-3h1zM409 144h3v1h1v3h-1v1h-3v-1h-1v-3h1zM366 161h3v1h1v3h-1v1h-3v-1h-1v-3h1zM347 190h3v1h1v3h-1v1h-3v-1h-1v-3h1zM327 184h3v1h1v3h-1v1h-3v-1h-1v-3h1zM350 138h3v1h1v3h-1v1h-3v-1h-1v-3h1zM290 196h3v1h1v3h-1v1h-3v-1h-1v-3h1zM352 161h3v1h1v3h-1v1h-3v-1h-1v-3h1zM247 167h3v1h1v3h-1v1h-3v-1h-1v-3h1zM391 155h3v1h1v3h-1v1h-3v-1h-1v-3h1zM329 167h3v1h1v3h-1v1h-3v-1h-1v-3h1zM380 173h3v1h1v3h-1v1h-3v-1h-1v-3h1zM334 190h3v1h1v3h-1v1h-3v-1h-1v-3h1zM396 150h3v1h1v3h-1v1h-3v-1h-1v-3h1zM267 190h3v1h1v3h-1v1h-3v-1h-1v-3h1zM394 127h3v1h1v3h-1v1h-3v-1h-1v-3h1zM341 196h3v1h1v3h-1v1h-3v-1h-1v-3h1zM386 121h3v1h1v3h-1v1h-3v-1h-1v-3h1zM412 144h3v1h1v3h-1v1h-3v-1h-1v-3h1zM322 161h3v1h1v3h-1v1h-3v-1h-1v-3h1zM347 173h3v1h1v3h-1v1h-3v-1h-1v-3h1zM343 161h3v1h1v3h-1v1h-3v-1h-1v-3h1zM283 161h3v1h1v3h-1v1h-3v-1h-1v-3h1zM340 161h3v1h1v3h-1v1h-3v-1h-1v-3h1zM311 155h3v1h1v3h-1v1h-3v-1h-1v-3h1zM370 161h3v1h1v3h-1v1h-3v-1h-1v-3h1zM377 190h3v1h1v3h-1v1h-3v-1h-1v-3h1zM409 132h3v1h1v3h-1v1h-3v-1h-1v-3h1zM361 121h3v1h1v3h-1v1h-3v-1h-1v-3h1zM281 196h3v1h1v3h-1v1h-3v-1h-1v-3h1zM322 207h3v1h1v3h-1v1h-3v-1h-1v-3h1zM579 75h3v1h1v3h-1v1h-3v-1h-1v-3h1zM393 132h3v1h1v3h-1v1h-3v-1h-1v-3h1zM380 132h3v1h1v3h-1v1h-3v-1h-1v-3h1zM278 173h3v1h1v3h-1v1h-3v-1h-1v-3h1zM309 138h3v1h1v3h-1v1h-3v-1h-1v-3h1zM302 201h3v1h1v3h-1v1h-3v-1h-1v-3h1zM386 201h3v1h1v3h-1v1h-3v-1h-1v-3h1zM279 201h3v1h1v3h-1v1h-3v-1h-1v-3h1zM401 104h3v1h1v3h-1v1h-3v-1h-1v-3h1zM325 190h3v1h1v3h-1v1h-3v-1h-1v-3h1zM401 155h3v1h1v3h-1v1h-3v-1h-1v-3h1zM417 121h3v1h1v3h-1v1h-3v-1h-1v-3h1zM295 150h3v1h1v3h-1v1h-3v-1h-1v-3h1zM329 190h3v1h1v3h-1v1h-3v-1h-1v-3h1zM417 104h3v1h1v3h-1v1h-3v-1h-1v-3h1zM318 173h3v1h1v3h-1v1h-3v-1h-1v-3h1zM324 161h3v1h1v3h-1v1h-3v-1h-1v-3h1zM348 190h3v1h1v3h-1v1h-3v-1h-1v-3h1zM382 132h3v1h1v3h-1v1h-3v-1h-1v-3h1zM322 190h3v1h1v3h-1v1h-3v-1h-1v-3h1zM410 104h3v1h1v3h-1v1h-3v-1h-1v-3h1zM347 150h3v1h1v3h-1v1h-3v-1h-1v-3h1zM320 132h3v1h1v3h-1v1h-3v-1h-1v-3h1zM299 201h3v1h1v3h-1v1h-3v-1h-1v-3h1zM329 132h3v1h1v3h-1v1h-3v-1h-1v-3h1zM288 201h3v1h1v3h-1v1h-3v-1h-1v-3h1zM416 109h3v1h1v3h-1v1h-3v-1h-1v-3h1zM325 201h3v1h1v3h-1v1h-3v-1h-1v-3h1zM341 127h3v1h1v3h-1v1h-3v-1h-1v-3h1zM332 167h3v1h1v3h-1v1h-3v-1h-1v-3h1zM485 69h3v1h1v3h-1v1h-3v-1h-1v-3h1zM334 138h3v1h1v3h-1v1h-3v-1h-1v-3h1zM405 75h3v1h1v3h-1v1h-3v-1h-1v-3h1zM341 167h3v1h1v3h-1v1h-3v-1h-1v-3h1zM400 81h3v1h1v3h-1v1h-3v-1h-1v-3h1zM293 132h3v1h1v3h-1v1h-3v-1h-1v-3h1zM421 115h3v1h1v3h-1v1h-3v-1h-1v-3h1zM368 155h3v1h1v3h-1v1h-3v-1h-1v-3h1zM345 127h3v1h1v3h-1v1h-3v-1h-1v-3h1zM377 127h3v1h1v3h-1v1h-3v-1h-1v-3h1zM345 155h3v1h1v3h-1v1h-3v-1h-1v-3h1zM384 75h3v1h1v3h-1v1h-3v-1h-1v-3h1zM364 196h3v1h1v3h-1v1h-3v-1h-1v-3h1zM428 132h3v1h1v3h-1v1h-3v-1h-1v-3h1zM324 115h3v1h1v3h-1v1h-3v-1h-1v-3h1zM393 178h3v1h1v3h-1v1h-3v-1h-1v-3h1zM453 127h3v1h1v3h-1v1h-3v-1h-1v-3h1zM363 178h3v1h1v3h-1v1h-3v-1h-1v-3h1zM409 109h3v1h1v3h-1v1h-3v-1h-1v-3h1zM318 178h3v1h1v3h-1v1h-3v-1h-1v-3h1zM423 86h3v1h1v3h-1v1h-3v-1h-1v-3h1zM292 144h3v1h1v3h-1v1h-3v-1h-1v-3h1zM432 144h3v1h1v3h-1v1h-3v-1h-1v-3h1zM364 178h3v1h1v3h-1v1h-3v-1h-1v-3h1zM446 75h3v1h1v3h-1v1h-3v-1h-1v-3h1zM364 144h3v1h1v3h-1v1h-3v-1h-1v-3h1zM448 86h3v1h1v3h-1v1h-3v-1h-1v-3h1zM329 178h3v1h1v3h-1v1h-3v-1h-1v-3h1zM400 109h3v1h1v3h-1v1h-3v-1h-1v-3h1zM311 167h3v1h1v3h-1v1h-3v-1h-1v-3h1zM423 98h3v1h1v3h-1v1h-3v-1h-1v-3h1zM398 155h3v1h1v3h-1v1h-3v-1h-1v-3h1zM354 121h3v1h1v3h-1v1h-3v-1h-1v-3h1zM380 230h3v1h1v3h-1v1h-3v-1h-1v-3h1zM428 104h3v1h1v3h-1v1h-3v-1h-1v-3h1zM382 138h3v1h1v3h-1v1h-3v-1h-1v-3h1zM513 86h3v1h1v3h-1v1h-3v-1h-1v-3h1zM359 161h3v1h1v3h-1v1h-3v-1h-1v-3h1zM393 86h3v1h1v3h-1v1h-3v-1h-1v-3h1zM361 155h3v1h1v3h-1v1h-3v-1h-1v-3h1zM262 190h3v1h1v3h-1v1h-3v-1h-1v-3h1zM469 138h3v1h1v3h-1v1h-3v-1h-1v-3h1zM290 201h3v1h1v3h-1v1h-3v-1h-1v-3h1zM375 196h3v1h1v3h-1v1h-3v-1h-1v-3h1zM417 155h3v1h1v3h-1v1h-3v-1h-1v-3h1zM405 81h3v1h1v3h-1v1h-3v-1h-1v-3h1zM293 173h3v1h1v3h-1v1h-3v-1h-1v-3h1zM435 75h3v1h1v3h-1v1h-3v-1h-1v-3h1zM341 150h3v1h1v3h-1v1h-3v-1h-1v-3h1zM499 75h3v1h1v3h-1v1h-3v-1h-1v-3h1zM311 150h3v1h1v3h-1v1h-3v-1h-1v-3h1zM387 121h3v1h1v3h-1v1h-3v-1h-1v-3h1zM359 167h3v1h1v3h-1v1h-3v-1h-1v-3h1zM416 121h3v1h1v3h-1v1h-3v-1h-1v-3h1zM324 178h3v1h1v3h-1v1h-3v-1h-1v-3h1zM407 173h3v1h1v3h-1v1h-3v-1h-1v-3h1zM347 293h3v1h1v3h-1v1h-3v-1h-1v-3h1zM409 270h3v1h1v3h-1v1h-3v-1h-1v-3h1zM432 288h3v1h1v3h-1v1h-3v-1h-1v-3h1zM327 316h3v1h1v3h-1v1h-3v-1h-1v-3h1zM456 265h3v1h1v3h-1v1h-3v-1h-1v-3h1zM324 259h3v1h1v3h-1v1h-3v-1h-1v-3h1zM340 374h3v1h1v3h-1v1h-3v-1h-1v-3h1zM432 265h3v1h1v3h-1v1h-3v-1h-1v-3h1zM338 276h3v1h1v3h-1v1h-3v-1h-1v-3h1zM432 259h3v1h1v3h-1v1h-3v-1h-1v-3h1zM348 288h3v1h1v3h-1v1h-3v-1h-1v-3h1zM439 282h3v1h1v3h-1v1h-3v-1h-1v-3h1zM355 334h3v1h1v3h-1v1h-3v-1h-1v-3h1zM444 242h3v1h1v3h-1v1h-3v-1h-1v-3h1zM336 305h3v1h1v3h-1v1h-3v-1h-1v-3h1zM417 242h3v1h1v3h-1v1h-3v-1h-1v-3h1zM414 265h3v1h1v3h-1v1h-3v-1h-1v-3h1zM550 357h3v1h1v3h-1v1h-3v-1h-1v-3h1zM345 305h3v1h1v3h-1v1h-3v-1h-1v-3h1zM394 276h3v1h1v3h-1v1h-3v-1h-1v-3h1zM274 357h3v1h1v3h-1v1h-3v-1h-1v-3h1zM382 299h3v1h1v3h-1v1h-3v-1h-1v-3h1zM288 322h3v1h1v3h-1v1h-3v-1h-1v-3h1zM419 288h3v1h1v3h-1v1h-3v-1h-1v-3h1zM350 276h3v1h1v3h-1v1h-3v-1h-1v-3h1zM444 265h3v1h1v3h-1v1h-3v-1h-1v-3h1zM417 247h3v1h1v3h-1v1h-3v-1h-1v-3h1zM400 247h3v1h1v3h-1v1h-3v-1h-1v-3h1zM345 299h3v1h1v3h-1v1h-3v-1h-1v-3h1zM458 219h3v1h1v3h-1v1h-3v-1h-1v-3h1zM247 322h3v1h1v3h-1v1h-3v-1h-1v-3h1zM483 242h3v1h1v3h-1v1h-3v-1h-1v-3h1zM276 322h3v1h1v3h-1v1h-3v-1h-1v-3h1zM426 230h3v1h1v3h-1v1h-3v-1h-1v-3h1zM403 276h3v1h1v3h-1v1h-3v-1h-1v-3h1zM364 253h3v1h1v3h-1v1h-3v-1h-1v-3h1zM366 276h3v1h1v3h-1v1h-3v-1h-1v-3h1zM444 190h3v1h1v3h-1v1h-3v-1h-1v-3h1zM354 293h3v1h1v3h-1v1h-3v-1h-1v-3h1zM471 219h3v1h1v3h-1v1h-3v-1h-1v-3h1zM391 190h3v1h1v3h-1v1h-3v-1h-1v-3h1zM341 322h3v1h1v3h-1v1h-3v-1h-1v-3h1zM424 270h3v1h1v3h-1v1h-3v-1h-1v-3h1zM329 270h3v1h1v3h-1v1h-3v-1h-1v-3h1zM423 242h3v1h1v3h-1v1h-3v-1h-1v-3h1zM410 305h3v1h1v3h-1v1h-3v-1h-1v-3h1zM391 178h3v1h1v3h-1v1h-3v-1h-1v-3h1zM435 322h3v1h1v3h-1v1h-3v-1h-1v-3h1zM405 259h3v1h1v3h-1v1h-3v-1h-1v-3h1zM375 253h3v1h1v3h-1v1h-3v-1h-1v-3h1zM433 242h3v1h1v3h-1v1h-3v-1h-1v-3h1zM332 288h3v1h1v3h-1v1h-3v-1h-1v-3h1zM421 230h3v1h1v3h-1v1h-3v-1h-1v-3h1zM448 265h3v1h1v3h-1v1h-3v-1h-1v-3h1zM324 299h3v1h1v3h-1v1h-3v-1h-1v-3h1zM396 230h3v1h1v3h-1v1h-3v-1h-1v-3h1zM412 236h3v1h1v3h-1v1h-3v-1h-1v-3h1zM331 282h3v1h1v3h-1v1h-3v-1h-1v-3h1zM442 213h3v1h1v3h-1v1h-3v-1h-1v-3h1zM352 311h3v1h1v3h-1v1h-3v-1h-1v-3h1zM332 276h3v1h1v3h-1v1h-3v-1h-1v-3h1zM511 207h3v1h1v3h-1v1h-3v-1h-1v-3h1zM293 236h3v1h1v3h-1v1h-3v-1h-1v-3h1zM401 288h3v1h1v3h-1v1h-3v-1h-1v-3h1zM423 190h3v1h1v3h-1v1h-3v-1h-1v-3h1zM412 259h3v1h1v3h-1v1h-3v-1h-1v-3h1zM628 222h3v1h1v3h-1v1h-3v-1h-1v-3h1z"/>
</g></svg></body></html>
